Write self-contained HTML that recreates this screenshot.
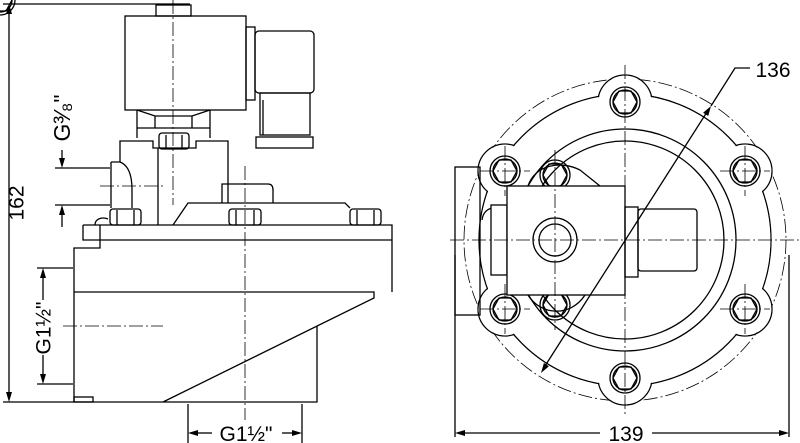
<!DOCTYPE html>
<html><head><meta charset="utf-8"><style>html,body{margin:0;padding:0;background:#fff}svg{display:block}text{font-family:"Liberation Sans",sans-serif;fill:#000}</style></head><body>
<svg width="800" height="443" viewBox="0 0 800 443" xmlns="http://www.w3.org/2000/svg">
<g fill="none" stroke="#000" stroke-width="1.3">
<!-- LEFT VIEW -->
<line x1="9" y1="10" x2="9" y2="396"/>
<line x1="3" y1="4" x2="190" y2="4"/>
<line x1="3" y1="402" x2="74" y2="402"/>
<rect x="156" y="5" width="35" height="11"/>
<rect x="125" y="16" width="121" height="94"/>
<rect x="246" y="27" width="9" height="73"/>
<rect x="255" y="31" width="59" height="62" rx="4"/>
<rect x="260" y="93" width="50" height="42"/>
<line x1="263" y1="100" x2="263" y2="135"/>
<rect x="256" y="137" width="57" height="11"/>
<path d="M137,110 V138 M210,110 V138 M137,110 L155,116 L192,116 L210,110 M155,116 V128 M192,116 V128 M137,128 H210"/>
<path d="M120,162 V141 H153 V148 H196 V141 H228 V203"/>
<rect x="159" y="133" width="30" height="16" rx="3"/>
<line x1="166" y1="135" x2="166" y2="148"/><line x1="182" y1="135" x2="182" y2="148"/>
<path d="M158,148 V225 M111,162 H120 C128,165 132,175 132,190 V208 M111,162 V208"/>
<path d="M222,203 V184 H268 Q273,184 273,190 V203"/>
<path d="M173,225 L188,203 H345 L350,208"/>
<rect x="110" y="209" width="31" height="16" rx="3"/><line x1="117" y1="210" x2="117" y2="225"/><line x1="134" y1="210" x2="134" y2="225"/>
<rect x="229" y="209" width="32" height="16" rx="3"/><line x1="236" y1="210" x2="236" y2="225"/><line x1="254" y1="210" x2="254" y2="225"/>
<rect x="350" y="209" width="31" height="16" rx="3"/><line x1="357" y1="210" x2="357" y2="225"/><line x1="374" y1="210" x2="374" y2="225"/>
<path d="M95,225 C95,218 103,217 108,219"/>
<path d="M83,225 H392 V292 M83,225 V240 H100 M100,225 V248 H74 V402 H317 V326 M74,292 H374 V298 L163,402"/>
<line x1="100" y1="240" x2="392" y2="240"/>
<rect x="74" y="397" width="19" height="5"/>
<line x1="55" y1="168" x2="110" y2="168"/><line x1="55" y1="205" x2="110" y2="205"/>
<line x1="62" y1="150" x2="62" y2="160"/><line x1="62" y1="227" x2="62" y2="213"/>
<line x1="37" y1="268" x2="73" y2="268"/><line x1="37" y1="384" x2="73" y2="384"/>
<line x1="43" y1="300" x2="43" y2="276"/><line x1="43" y1="355" x2="43" y2="376"/>
<line x1="188" y1="404" x2="188" y2="443"/><line x1="302" y1="404" x2="302" y2="443"/>
<line x1="212" y1="433" x2="196" y2="433"/><line x1="282" y1="433" x2="294" y2="433"/>
<g stroke-width="0.8" stroke-dasharray="14,3,2,3">
<line x1="173" y1="0" x2="173" y2="205"/><line x1="245" y1="166" x2="245" y2="420"/>
<line x1="100" y1="186" x2="163" y2="186"/><line x1="63" y1="326" x2="163" y2="326"/>
</g>
<!-- RIGHT VIEW -->
<g stroke-width="0.8" stroke-dasharray="14,3,2,3">
<circle cx="625" cy="240" r="161"/>
<circle cx="625" cy="240" r="138"/>
</g>
<g>
<circle cx="625" cy="240" r="146"/>
<circle cx="625" cy="102" r="27"/><circle cx="625" cy="378" r="27"/>
<circle cx="505" cy="171" r="27"/><circle cx="745" cy="171" r="27"/>
<circle cx="505" cy="309" r="27"/><circle cx="745" cy="309" r="27"/>
</g>
<g fill="#fff" stroke="none">
<circle cx="625" cy="240" r="145.3"/>
<circle cx="625" cy="102" r="26.3"/><circle cx="625" cy="378" r="26.3"/>
<circle cx="505" cy="171" r="26.3"/><circle cx="745" cy="171" r="26.3"/>
<circle cx="505" cy="309" r="26.3"/><circle cx="745" cy="309" r="26.3"/>
</g>
<rect x="455" y="167" width="25" height="148"/>
<circle cx="625" cy="240" r="111"/>
<circle cx="625" cy="240" r="99"/>
<path d="M528,186 C535,165 560,160 580,170 L600,186"/>
<path d="M528,295 C540,315 570,318 585,295"/>
<path d="M482,220 C484,205 500,205 505,215"/>
<g id="b">
<circle cx="0" cy="0" r="15"/><circle cx="0" cy="0" r="12"/>
<path d="M-6,-11 L6,-11 L12,0 L6,11 L-6,11 L-12,0 Z"/>
</g>
<use href="#b" x="625" y="102"/><use href="#b" x="625" y="378"/>
<use href="#b" x="505" y="171"/><use href="#b" x="745" y="171"/>
<use href="#b" x="505" y="309"/><use href="#b" x="745" y="309"/>
<use href="#b" x="555" y="175"/><use href="#b" x="555" y="305"/>
<rect x="491" y="205" width="16" height="70" fill="#fff"/>
<rect x="507" y="186" width="118" height="109" fill="#fff"/>
<circle cx="555" cy="240" r="22"/><circle cx="555" cy="240" r="16"/>
<rect x="625" y="207" width="13" height="70"/>
<rect x="638" y="209" width="59" height="62" rx="3"/>
<g stroke-width="0.8" stroke-dasharray="14,3,2,3">
<line x1="450" y1="240" x2="800" y2="240"/><line x1="625" y1="65" x2="625" y2="415"/>
<line x1="555" y1="150" x2="555" y2="330"/>
<line x1="480" y1="171" x2="530" y2="171"/><line x1="505" y1="146" x2="505" y2="196"/>
<line x1="480" y1="309" x2="530" y2="309"/><line x1="505" y1="284" x2="505" y2="334"/>
<line x1="720" y1="171" x2="770" y2="171"/><line x1="745" y1="146" x2="745" y2="196"/>
<line x1="720" y1="309" x2="770" y2="309"/><line x1="745" y1="284" x2="745" y2="334"/>
</g>
<line x1="545" y1="366" x2="707" y2="112"/>
<polyline points="711,106 735,68 750,68"/>
<line x1="455" y1="255" x2="455" y2="437"/><line x1="789" y1="255" x2="789" y2="437"/>
<line x1="600" y1="433" x2="463" y2="433"/><line x1="652" y1="433" x2="781" y2="433"/>
</g>
<g fill="#000" stroke="none">
<polygon points="9,4 6,14 12,14"/><polygon points="9,402 6,392 12,392"/>
<polygon points="62,168 59,158 65,158"/><polygon points="62,205 59,215 65,215"/>
<polygon points="43,268 40,278 46,278"/><polygon points="43,384 40,374 46,374"/>
<polygon points="188,433 198,430 198,436"/><polygon points="302,433 292,430 292,436"/>
<polygon points="455,433 465,430 465,436"/><polygon points="789,433 779,430 779,436"/>
<polygon points="711,106 708.2,116 703.1,112.8"/><polygon points="541,373 548.9,366.2 543.9,363"/>
</g>
<text x="18" y="203" font-size="21" text-anchor="middle" transform="rotate(-90 18 203)" dominant-baseline="middle">162</text>
<text x="64" y="118" font-size="23" text-anchor="middle" transform="rotate(-90 64 118)" dominant-baseline="middle">G³⁄₈"</text>
<text x="45" y="328" font-size="21" text-anchor="middle" transform="rotate(-90 45 328)" dominant-baseline="middle">G1½"</text>
<text x="246" y="441" font-size="21" text-anchor="middle">G1½"</text>
<text x="773" y="77" font-size="21" text-anchor="middle">136</text>
<text x="626" y="441" font-size="21" text-anchor="middle">139</text>
</svg>
</body></html>
